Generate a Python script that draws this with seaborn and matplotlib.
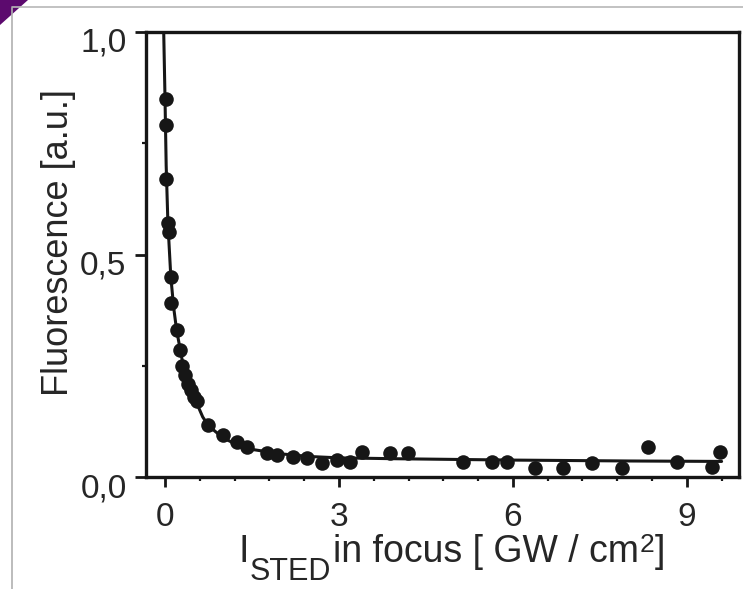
import matplotlib
matplotlib.use("Agg")
import matplotlib.pyplot as plt
from matplotlib.lines import Line2D
from matplotlib.patches import Polygon
from matplotlib.ticker import MultipleLocator, FixedLocator
from matplotlib.transforms import ScaledTranslation
import pandas as pd
import seaborn as sns

# Measured fluorescence vs. STED intensity in focus (GW/cm^2)
intensity = [0.02, 0.02, 0.02, 0.05, 0.07, 0.10, 0.10, 0.20, 0.25,
             0.30, 0.35, 0.40, 0.45, 0.50, 0.55, 0.74, 1.00, 1.24, 1.41,
             1.76, 1.93, 2.20, 2.45, 2.70, 2.97, 3.19, 3.40, 3.88, 4.19,
             5.14, 5.64, 5.90, 6.38, 6.86, 7.36, 7.88, 8.33, 8.83, 9.43, 9.57]
fluorescence = [0.85, 0.79, 0.67, 0.57, 0.55, 0.45, 0.39, 0.33, 0.285,
                0.25, 0.23, 0.21, 0.195, 0.18, 0.17, 0.117, 0.094, 0.079, 0.067,
                0.054, 0.049, 0.045, 0.043, 0.031, 0.038, 0.034, 0.056, 0.054, 0.054,
                0.034, 0.034, 0.034, 0.020, 0.020, 0.031, 0.020, 0.067, 0.034, 0.023, 0.056]

# Saturation fit curve traced along its course
fit_x = [-0.03, 0.00, 0.02, 0.05, 0.10, 0.15, 0.20, 0.30, 0.40, 0.50, 0.65,
         0.75, 1.00, 1.25, 1.50, 2.00, 2.50, 3.00, 4.00, 6.00, 8.00, 9.60]
fit_y = [1.05, 0.85, 0.70, 0.57, 0.45, 0.38, 0.33, 0.26, 0.21, 0.18, 0.135,
         0.115, 0.088, 0.072, 0.062, 0.052, 0.046, 0.043, 0.041, 0.038, 0.036, 0.035]

x_ticks = [0, 3, 6, 9]
y_ticks = [0.0, 0.5, 1.0]
y_ticklabels = ["0,0", "0,5", "1,0"]

sns.set_theme(style="ticks")
plt.rcParams["font.family"] = ["Liberation Sans", "DejaVu Sans"]

W, H, DPI = 743, 589, 100
fig = plt.figure(figsize=(W / DPI, H / DPI), dpi=DPI, facecolor="white")
ax = fig.add_axes([146 / W, 1 - 477 / H, (739 - 146) / W, (477 - 32) / H])

ink = "#161616"
txt = "#262626"
pts = pd.DataFrame({"I": intensity, "F": fluorescence})
fit = pd.DataFrame({"I": fit_x, "F": fit_y})

sns.lineplot(data=fit, x="I", y="F", ax=ax, sort=False, color=ink,
             linewidth=2.2, zorder=2)
sns.scatterplot(data=pts, x="I", y="F", ax=ax, color=ink, s=110,
                edgecolor=ink, linewidth=0, zorder=3)

ax.set_xlim(-0.328, 9.9)
ax.set_ylim(0, 1)

ax.xaxis.set_major_locator(FixedLocator(x_ticks))
ax.xaxis.set_minor_locator(MultipleLocator(0.6))
ax.yaxis.set_major_locator(FixedLocator(y_ticks))
ax.yaxis.set_minor_locator(FixedLocator([0.25, 0.75]))
ax.set_yticklabels(y_ticklabels)

ax.tick_params(axis="both", which="major", direction="out", width=2,
               color=ink, labelsize=24, labelcolor=txt)
ax.tick_params(axis="x", which="major", length=7, pad=11)
ax.tick_params(axis="y", which="major", length=8, pad=6)
ax.tick_params(axis="both", which="minor", direction="out", width=1.6,
               length=3, color=ink)

# y tick labels sit a little below their ticks
shift = ScaledTranslation(0, -8 / DPI, fig.dpi_scale_trans)
for lab in ax.get_yticklabels():
    lab.set_transform(lab.get_transform() + shift)

for sp in ax.spines.values():
    sp.set_visible(True)
    sp.set_linewidth(2.4)
    sp.set_color(ink)

ax.set_xlabel("")
ax.set_ylabel("Fluorescence [a.u.]", fontsize=26, color=txt)
ax.yaxis.set_label_coords((76 - 146) / (739 - 146), (477 - 243) / (477 - 32))

# x axis title assembled piece by piece (large subscript and superscript)
fig.canvas.draw()
renderer = fig.canvas.get_renderer()


def put(x_px, base_px, s, size):
    t = fig.text(x_px / W, 1 - base_px / H, s, fontsize=size, color=txt,
                 ha="left", va="baseline")
    return t.get_window_extent(renderer).x1


x = put(238, 562, "I", 27)
x = put(x + 1, 580, "STED", 22)
x = put(x + 2, 562, "in focus [ GW / cm", 27)
x = put(x + 1, 552, "2", 19)
put(x, 562, "]", 27)

# Screenshot frame: thin grey border and a purple corner tab
fig.add_artist(Line2D([12 / W, 12 / W], [0, 1 - 8 / H], transform=fig.transFigure,
                      color="#b0b0b0", linewidth=1.2))
fig.add_artist(Line2D([12 / W, 1], [1 - 7 / H, 1 - 7 / H], transform=fig.transFigure,
                      color="#b8b8b8", linewidth=1.2))
fig.add_artist(Polygon([[0, 1], [28 / W, 1], [0, 1 - 25 / H]], closed=True,
                       transform=fig.transFigure, facecolor="#5c0a6e",
                       edgecolor="none"))

fig.savefig("out.png", dpi=DPI, facecolor="white")
